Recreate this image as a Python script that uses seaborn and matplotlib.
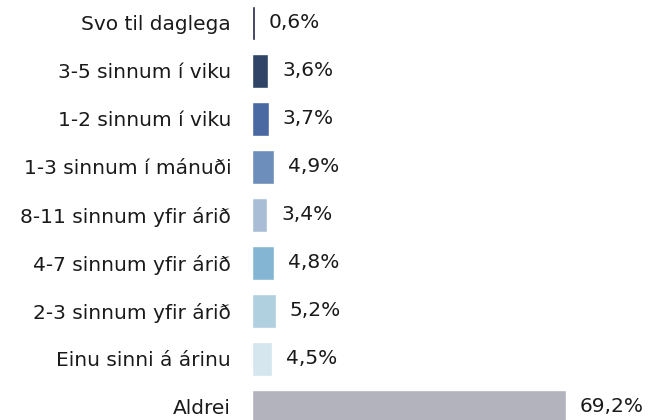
import matplotlib
matplotlib.use("Agg")
import matplotlib.pyplot as plt
import seaborn as sns
import pandas as pd

# Chart data
categories = [
    "Svo til daglega",
    "3-5 sinnum í viku",
    "1-2 sinnum í viku",
    "1-3 sinnum í mánuði",
    "8-11 sinnum yfir árið",
    "4-7 sinnum yfir árið",
    "2-3 sinnum yfir árið",
    "Einu sinni á árinu",
    "Aldrei",
]
values = [0.6, 3.6, 3.7, 4.9, 3.4, 4.8, 5.2, 4.5, 69.2]
value_labels = ["0,6%", "3,6%", "3,7%", "4,9%", "3,4%", "4,8%", "5,2%", "4,5%", "69,2%"]
bar_colors = ["#1b2440", "#2f4467", "#4a68a1", "#6d8eba", "#a9bdd6",
              "#84b6d3", "#b0cfdf", "#d5e6ee", "#b3b3bd"]

df = pd.DataFrame({"category": categories, "value": values})

sns.set_style("white")
plt.rcParams["font.family"] = ["DejaVu Sans"]

fig = plt.figure(figsize=(6.51, 4.2), dpi=100)
ax = fig.add_axes([252 / 651, 0, 399 / 651, 1])

sns.barplot(data=df, x="value", y="category", hue="category", palette=bar_colors,
            legend=False, orient="h", width=0.7, saturation=1, ax=ax)

ax.set_xlim(0, 88)
ax.set_ylim((420 - 23) / 48, -23 / 48)

# value labels to the right of each bar
for i, (v, lab) in enumerate(zip(values, value_labels)):
    ax.annotate(lab, (v, i), xytext=(10, 0), textcoords="offset points",
                va="center", ha="left", fontsize=14.5, color="#1a1a1a")

ax.set_xlabel("")
ax.set_ylabel("")
ax.set_xticks([])
ax.tick_params(axis="y", length=0, pad=15, labelsize=14.5, labelcolor="#1a1a1a")
sns.despine(ax=ax, left=True, bottom=True)

fig.savefig("out.png", dpi=100)
